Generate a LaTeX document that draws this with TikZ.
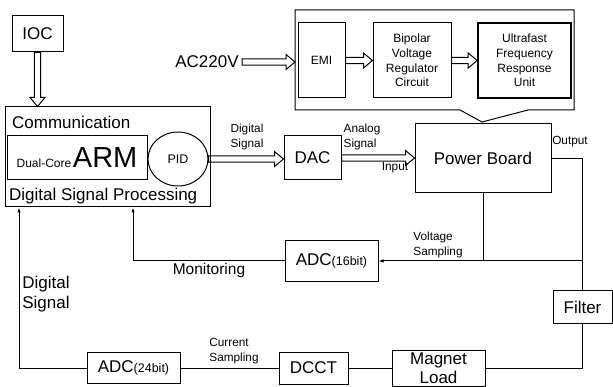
\documentclass[tikz,border=0pt]{standalone}
\usepackage{fontspec}
\setmainfont{Liberation Sans}
\usetikzlibrary{arrows.meta,positioning,shapes.geometric,calc}
\tikzset{
  blk/.style={draw, line width=1pt, inner sep=0pt, align=center, fill=white},
  big/.style={font=\fontsize{17}{19.5}\selectfont},
  mid/.style={font=\fontsize{12}{14.7}\selectfont},
  lbl/.style={font=\fontsize{11.8}{15.5}\selectfont, align=left, inner sep=0pt},
  wire/.style={line width=1pt},
  sig/.style={wire, -{Latex[length=5pt,width=3.5pt]}},
  hollow/.style={wire, line join=miter, to path={let \p1=(\tikztostart), \p2=(\tikztotarget), \p3=($(\p2)!9pt!(\p1)$) in
    ($(\p1)!3.2pt!90:(\p2)$) -- ($(\p3)!3.2pt!90:(\p2)$) -- ($(\p3)!7.5pt!90:(\p2)$) -- (\p2)
    -- ($(\p3)!7.5pt!-90:(\p2)$) -- ($(\p3)!3.2pt!-90:(\p2)$) -- ($(\p1)!3.2pt!-90:(\p2)$) -- cycle}},
}
\newcommand{\bits}[1]{{\fontsize{12.5}{13}\selectfont(#1)}}
\begin{document}
\begin{tikzpicture}[x=1pt,y=-1pt]
\useasboundingbox (0,0) rectangle (613,387);
% controller
\node[blk, big, minimum width=51, minimum height=36] (ioc) at (37.5,34) {IOC};
\node[blk, minimum width=205, minimum height=100] (dsp) at (107.5,157) {};
\node[big, anchor=west, inner sep=0pt] (comm) at (12,122) {Communication};
\node[big, anchor=west, inner sep=0pt] (proc) at (9,196) {Digital Signal Processing};
\node[blk, minimum width=140, minimum height=44] (arm) at (77,158) {{\fontsize{12}{12}\selectfont Dual-Core}\,{\fontsize{29}{29}\selectfont ARM}};
\node[blk, ellipse, minimum width=60, minimum height=54, font=\fontsize{12.5}{13}\selectfont] (pid) at (178,159) {PID};
\draw[hollow] (ioc.south) to (ioc.south |- dsp.north);
% supply
\draw[wire] (295,10) -- (574,10) -- (574,110) -- (528,110) -- (482,122) -- (460,110) -- (295,110) -- cycle;
\node[big] (ac) at (207,62) {AC220V};
\coordinate (psu) at (295,62);
\node[blk, mid, minimum width=47, minimum height=75] (emi) at (321.5,60.5) {EMI};
\node[blk, mid, minimum width=78, minimum height=75] (bvr) at (412,60.5) {Bipolar\\Voltage\\Regulator\\Circuit};
\node[blk, mid, line width=1.6pt, minimum width=93, minimum height=75] (ufr) at (524.5,60.5) {Ultrafast\\Frequency\\Response\\Unit};
\draw[hollow] (ac.east) to (psu);
\draw[hollow] (emi.east) to (emi.east -| bvr.west);
\draw[hollow] (bvr.east) to (bvr.east -| ufr.west);
% power path
\node[blk, big, minimum width=57, minimum height=44] (dac) at (312.5,158) {DAC};
\node[blk, big, minimum width=136, minimum height=69] (pb) at (483,158.5) {Power Board};
\draw[hollow] (pid.east) to (pid.east -| dac.west);
\draw[hollow] (dac.east) to (dac.east -| pb.west);
\node[lbl] (dsig) at (247,137) {Digital\\Signal};
\node[lbl] (asig) at (362,137) {Analog\\Signal};
\node[lbl] (inp) at (395,168) {Input};
\node[lbl] (outp) at (570,142) {Output};
% feedback
\node[blk, big, minimum width=59, minimum height=32] (flt) at (582.5,307) {Filter};
\node[blk, big, minimum width=93, minimum height=41] (adc16) at (331.5,261) {ADC\bits{16bit}};
\coordinate (vs) at (flt.north |- 0,261);
\draw[wire] (pb.east) -| (flt.north);
\draw[wire] (pb.south) -- (pb.south |- vs);
\draw[sig] (vs) -- (adc16.east);
\node[lbl] (vsl) at (438,245) {Voltage\\Sampling};
\coordinate (mon) at (133,261);
\draw[sig] (adc16.west) -- (mon) -- (mon |- dsp.south);
\node[font=\fontsize{15.5}{17}\selectfont] (monl) at (209,270) {Monitoring};
\node[blk, big, minimum width=93, minimum height=36] (mag) at (438.5,368) {Magnet\\Load};
\node[blk, big, minimum width=69, minimum height=32] (dcct) at (313.5,368) {DCCT};
\node[blk, big, minimum width=93, minimum height=31] (adc24) at (133.5,368) {ADC\bits{24bit}};
\draw[wire] (flt.south) |- (mag.east);
\draw[wire] (mag) -- (dcct);
\draw[wire] (dcct) -- (adc24);
\node[lbl] (csl) at (234,351) {Current\\Sampling};
\coordinate (dsg) at (19,368);
\draw[sig] (adc24.west) -- (dsg) -- (dsg |- dsp.south);
\node[big, align=left] (dsgl) at (46,294) {Digital\\Signal};
\end{tikzpicture}
\end{document}
